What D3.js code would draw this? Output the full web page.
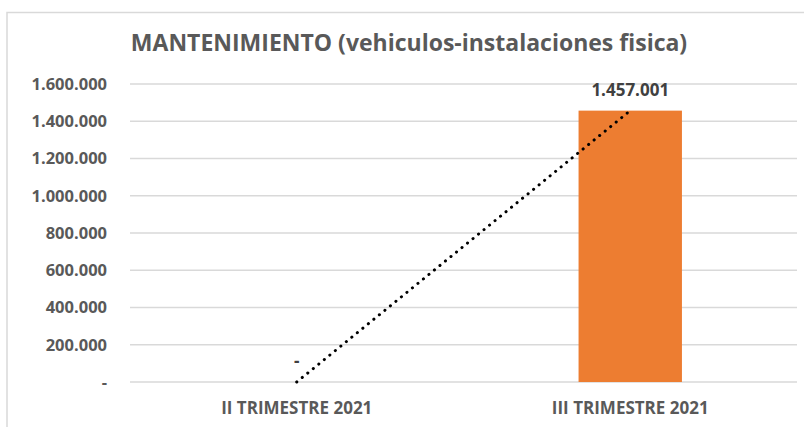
<!DOCTYPE html>
<html>
<head>
<meta charset="utf-8">
<script src="https://cdn.jsdelivr.net/npm/d3@7"></script>
<style>
  body { margin: 0; background: #fff; }
  text { font-family: "Open Sans", "Liberation Sans", sans-serif; }
</style>
</head>
<body>
<svg id="chart" width="804" height="427"></svg>
<script>
// Chart data
var categories = ['II TRIMESTRE 2021', 'III TRIMESTRE 2021'];
var values = [0, 1457001];
var tickValues = [0, 200000, 400000, 600000, 800000, 1000000, 1200000, 1400000, 1600000];
var title = 'MANTENIMIENTO (vehiculos-instalaciones fisica)';

var svg = d3.select('#chart');
var margin = {top: 84, right: 7, bottom: 45, left: 130};
var width = 804, height = 427;

// Spanish style thousands separator
var fmt = function(v) {
    if (v === 0) { return '-'; }
    return d3.format(',')(v).replace(/,/g, '.');
};

var x = d3.scaleBand()
    .domain(categories)
    .range([margin.left, width - margin.right])
    .paddingInner(0.69)
    .paddingOuter(0.345);

var y = d3.scaleLinear()
    .domain([0, 1600000])
    .range([height - margin.bottom, margin.top]);

// Frame border (left and top visible)
svg.append('path')
    .attr('d', 'M7,427 L7,12.5 L804,12.5')
    .attr('fill', 'none')
    .attr('stroke', '#d9d9d9')
    .attr('stroke-width', 1.5);

// Gridlines
svg.append('g')
    .selectAll('line')
    .data(tickValues)
    .enter().append('line')
    .attr('x1', margin.left)
    .attr('x2', width - margin.right)
    .attr('y1', function(d) { return y(d); })
    .attr('y2', function(d) { return y(d); })
    .attr('stroke', '#d9d9d9')
    .attr('stroke-width', 1.5);

// Y axis labels
var yAxis = d3.axisLeft(y)
    .tickValues(tickValues)
    .tickFormat(fmt)
    .tickSize(0)
    .tickPadding(23);

var yg = svg.append('g')
    .attr('transform', 'translate(' + margin.left + ',0)')
    .call(yAxis);
yg.select('.domain').remove();
yg.selectAll('text')
    .attr('fill', '#595959')
    .style('font-size', '16.5px')
    .style('font-weight', 'bold')
    .style('font-family', '"Open Sans", sans-serif');

// X axis labels
var xAxis = d3.axisBottom(x).tickSize(0).tickPadding(20);
var xg = svg.append('g')
    .attr('transform', 'translate(0,' + y(0) + ')')
    .call(xAxis);
xg.select('.domain').remove();
xg.selectAll('text')
    .attr('fill', '#595959')
    .style('font-size', '17px')
    .style('font-weight', 'bold')
    .style('font-family', '"Open Sans", sans-serif');

// Bars
svg.append('g')
    .selectAll('rect')
    .data(values)
    .enter().append('rect')
    .attr('x', function(d, i) { return x(categories[i]); })
    .attr('y', function(d) { return y(d); })
    .attr('width', x.bandwidth())
    .attr('height', function(d) { return y(0) - y(d); })
    .attr('fill', '#ed7d31');

// Data labels
svg.append('g')
    .selectAll('text')
    .data(values)
    .enter().append('text')
    .attr('x', function(d, i) { return x(categories[i]) + x.bandwidth() / 2; })
    .attr('y', function(d) { return y(d) - 15; })
    .attr('text-anchor', 'middle')
    .attr('fill', '#404040')
    .style('font-size', '17px')
    .style('font-weight', 'bold')
    .text(fmt);

// Linear trendline (least squares on category index)
var n = values.length;
var xs = d3.range(1, n + 1);
var mx = d3.mean(xs), my = d3.mean(values);
var slope = d3.sum(xs, function(v, i) { return (v - mx) * (values[i] - my); }) /
    d3.sum(xs, function(v) { return (v - mx) * (v - mx); });
var intercept = my - slope * mx;

var trend = d3.line()
    .x(function(d, i) { return x(categories[i]) + x.bandwidth() / 2; })
    .y(function(d, i) { return y(intercept + slope * xs[i]); });

svg.append('path')
    .datum(values)
    .attr('d', trend)
    .attr('fill', 'none')
    .attr('stroke', '#000')
    .attr('stroke-width', 3)
    .attr('stroke-linecap', 'round')
    .attr('stroke-dasharray', '0.1 7');

// Title
svg.append('text')
    .attr('x', 409)
    .attr('y', 51)
    .attr('text-anchor', 'middle')
    .attr('fill', '#595959')
    .style('font-size', '23px')
    .style('font-weight', 'bold')
    .text(title);
</script>
</body>
</html>
